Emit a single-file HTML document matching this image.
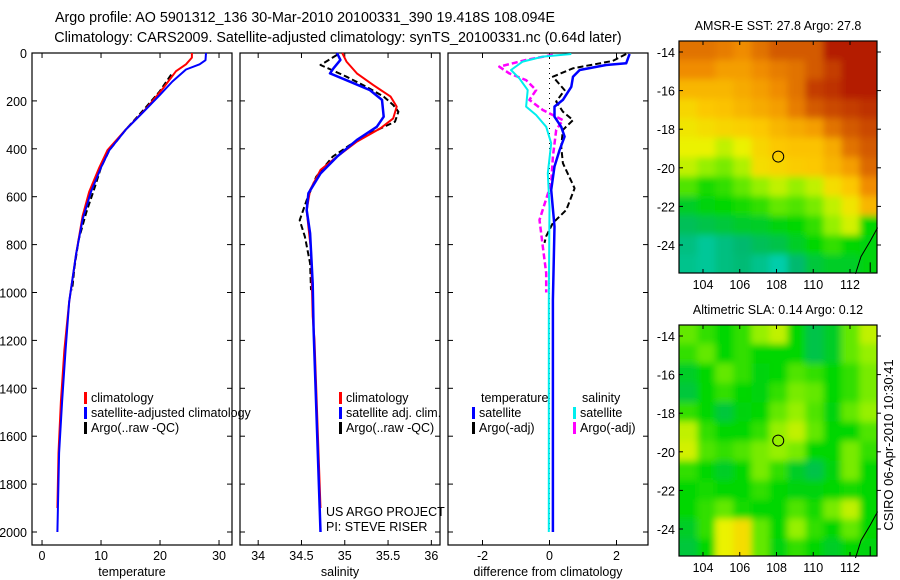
<!DOCTYPE html>
<html><head><meta charset="utf-8">
<style>
body{margin:0;background:#fff;}
svg{display:block;font-family:"Liberation Sans",sans-serif;}
text{fill:#000;}
</style></head>
<body>
<svg id="chart" width="900" height="580" viewBox="0 0 900 580" xmlns="http://www.w3.org/2000/svg">
<defs>
<filter id="blur" x="-5%" y="-5%" width="110%" height="110%"><feGaussianBlur stdDeviation="3.5"/></filter>
<clipPath id="c1"><rect x="679" y="41" width="198" height="232"/></clipPath>
<clipPath id="c2"><rect x="679" y="325" width="198" height="231"/></clipPath>
</defs>
<text x="305" y="22" font-size="14.3" text-anchor="middle">Argo profile: AO 5901312_136 30-Mar-2010 20100331_390 19.418S 108.094E</text>
<text x="338" y="42" font-size="14.3" text-anchor="middle">Climatology: CARS2009. Satellite-adjusted climatology: synTS_20100331.nc (0.64d later)</text>
<g id="g1"></g>
<g id="g2"></g>
<g id="g3"></g>
<g id="m1"></g>
<g id="m2"></g>
<text transform="translate(893,445) rotate(-90)" font-size="13" text-anchor="middle">CSIRO 06-Apr-2010 10:30:41</text>
</svg>
<script>
// ---- temperature profiles ----
const tClimDepth=[0,19,47,76,148,234,320,406,478,579,679,837,1038,1239,1455,1670,1900];
const tClimVal=[25.4,25.4,24.4,22.7,20.5,17.6,14.2,11.1,9.7,8,6.9,5.8,4.6,3.8,3.2,2.8,2.6];
const tSatDepth=[0,30,47,69,119,177,248,320,406,478,579,693,837,1038,1239,1455,1670,2000];
const tSatVal=[27.8,27.7,26.7,24.4,22.1,19.9,17.1,14.2,11.4,10,8.3,6.9,5.8,4.6,4,3.4,2.9,2.6];
const tArgoDepth=[90,162,241,320,406,478,564,665,780,894,990];
const tArgoVal=[21.9,19.9,17.1,14.2,11.4,10,8.9,7.5,6.2,5.5,5.1];
// ---- salinity profiles ----
const sClimDepth=[0,36,85,134,182,224,273,315,370,433,488,572,656,725,823,1100,1200,1900];
const sClimVal=[34.97,35.02,35.14,35.33,35.53,35.6,35.56,35.41,35.14,34.91,34.72,34.6,34.56,34.58,34.61,34.63,34.65,34.72];
const sSatDepth=[0,29,64,85,120,155,196,266,308,363,433,503,586,656,753,962,1156,2000];
const sSatVal=[34.91,34.95,34.87,34.83,35.06,35.29,35.43,35.45,35.37,35.14,34.91,34.72,34.58,34.56,34.6,34.63,34.64,34.72];
const sArgoDepth=[8,50,71,99,141,182,217,245,287,329,384,433,517,614,698,767,878,990];
const sArgoVal=[34.91,34.72,34.85,35.02,35.25,35.45,35.56,35.62,35.58,35.33,35.06,34.86,34.67,34.56,34.48,34.54,34.6,34.61];
// ---- differences ----
const dTSatDepth=[4,43,50,71,99,141,196,224,266,308,349,405,474,572,725,1031,2000];
const dTSatVal=[2.39,2.29,1.69,0.9,0.7,0.65,0.4,0.15,0.15,0.35,0.45,0.3,0.15,0.05,0.15,0.1,0.1];
const dTArgoDepth=[4,33,64,99,155,203,245,280,321,391,460,565,655,710,765,793];
const dTArgoVal=[2.29,1.89,0.7,0.1,0.45,0.2,0.4,0.7,0.4,0.35,0.4,0.75,0.5,0.1,-0.1,-0.15];
const dSSatDepth=[4,15,36,71,106,155,224,259,308,377,502,642,1031,2000];
const dSSatVal=[0.65,-0.2,-0.8,-1.15,-0.9,-0.65,-0.7,-0.4,-0.1,0.05,-0.05,0,-0.02,-0.02];
const dSArgoDepth=[8,29,57,85,113,155,196,238,280,321,433,544,697,808,919,1000];
const dSArgoVal=[0.1,-0.7,-1.5,-1.2,-0.7,-0.4,-0.6,-0.2,0.4,0.2,0.1,0.05,-0.3,-0.2,-0.1,-0.1];
// ---- axis ticks ----
const depthTicks=[0,200,400,600,800,1000,1200,1400,1600,1800,2000];
const tempTicks=[0,10,20,30];
const salTicks=[34,34.5,35,35.5,36];
const diffTicks=[-2,0,2];
const lonTicks=[104,106,108,110,112];
const latTicks=[-14,-16,-18,-20,-22,-24];
// ---- map grids (colour index 0..1) ----
const sstGrid=[
[0.8,0.8,0.78,0.75,0.8,0.85,0.85,0.85,0.95,0.95,0.95],
[0.75,0.75,0.72,0.72,0.75,0.78,0.8,0.85,0.9,0.95,0.95],
[0.68,0.68,0.68,0.7,0.72,0.75,0.8,0.9,0.92,0.95,0.95],
[0.62,0.65,0.66,0.68,0.7,0.72,0.78,0.85,0.88,0.9,0.92],
[0.58,0.6,0.62,0.63,0.65,0.68,0.7,0.72,0.8,0.85,0.88],
[0.55,0.55,0.5,0.55,0.62,0.65,0.66,0.66,0.7,0.8,0.85],
[0.5,0.45,0.42,0.48,0.6,0.62,0.64,0.65,0.68,0.72,0.82],
[0.38,0.32,0.35,0.4,0.45,0.5,0.45,0.5,0.6,0.65,0.75],
[0.25,0.28,0.3,0.32,0.35,0.4,0.38,0.42,0.5,0.58,0.68],
[0.18,0.2,0.22,0.24,0.25,0.28,0.3,0.35,0.45,0.52,0.3],
[0.12,0.08,0.12,0.15,0.18,0.2,0.25,0.3,0.35,0.3,0.28],
[0.1,0.08,0.12,0.14,0.1,0.05,0.15,0.22,0.25,0.25,0.28]];
const slaGrid=[
[0.4,0.35,0.3,0.35,0.45,0.5,0.3,0.2,0.25,0.4,0.5],
[0.35,0.4,0.3,0.35,0.3,0.3,0.3,0.2,0.25,0.4,0.45],
[0.25,0.3,0.4,0.35,0.28,0.3,0.38,0.35,0.3,0.35,0.42],
[0.22,0.3,0.35,0.3,0.28,0.35,0.42,0.4,0.3,0.35,0.42],
[0.35,0.3,0.22,0.28,0.3,0.4,0.45,0.38,0.28,0.4,0.45],
[0.5,0.35,0.3,0.3,0.35,0.45,0.5,0.4,0.3,0.3,0.38],
[0.52,0.38,0.35,0.38,0.42,0.45,0.42,0.3,0.3,0.42,0.35],
[0.35,0.3,0.25,0.3,0.42,0.35,0.25,0.2,0.28,0.42,0.3],
[0.3,0.32,0.3,0.3,0.35,0.3,0.28,0.28,0.3,0.32,0.3],
[0.3,0.35,0.4,0.32,0.3,0.3,0.38,0.32,0.42,0.5,0.3],
[0.25,0.35,0.55,0.6,0.4,0.3,0.45,0.35,0.3,0.4,0.3],
[0.22,0.3,0.55,0.6,0.4,0.28,0.35,0.3,0.25,0.3,0.28]];
const argoLon=108.094, argoLat=-19.418;

const NS='http://www.w3.org/2000/svg';
function mk(parent,tag,attrs){const e=document.createElementNS(NS,tag);for(const k in attrs)e.setAttribute(k,attrs[k]);parent.appendChild(e);return e;}
const Y0=53, YB=545, PX=47.9/200;
const yD=d=>Y0+d*PX;

function panel(g,x0,x1,vmin,vmax,xt,label,showDepth){
  const sx=v=>x0+(v-vmin)/(vmax-vmin)*(x1-x0);
  const fr=mk(g,'rect',{x:x0,y:Y0,width:x1-x0,height:YB-Y0,fill:'none',stroke:'#000','stroke-width':1.2});
  
  
  depthTicks.forEach(d=>{
    const y=yD(d);
    mk(g,'line',{x1:x0,y1:y,x2:x0+5,y2:y,stroke:'#000'});
    mk(g,'line',{x1:x1-5,y1:y,x2:x1,y2:y,stroke:'#000'});
    if(showDepth){const t=mk(g,'text',{x:x0-5,y:y+5,'font-size':12.5,'text-anchor':'end'});t.textContent=d;
      
      }
  });
  xt.forEach(v=>{
    const x=sx(v);
    mk(g,'line',{x1:x,y1:YB,x2:x,y2:YB-5,stroke:'#000'});
    mk(g,'line',{x1:x,y1:Y0,x2:x,y2:Y0+5,stroke:'#000'});
    const t=mk(g,'text',{x:x,y:YB+15,'font-size':12.5,'text-anchor':'middle'});t.textContent=v;
    
    
  });
  const l=mk(g,'text',{x:(x0+x1)/2,y:YB+31,'font-size':12.5,'text-anchor':'middle'});l.textContent=label;
  
  
  return sx;
}
function line(g,sx,dep,val,color,w,dash,name){
  const p=dep.map((d,i)=>sx(val[i]).toFixed(1)+','+yD(d).toFixed(1)).join(' ');
  const e=mk(g,'polyline',{points:p,fill:'none',stroke:color,'stroke-width':w,'stroke-linejoin':'round'});
  if(dash)e.setAttribute('stroke-dasharray',dash);
  
  
}
function legend(g,x,y,items){
  items.forEach((it,i)=>{
    const yy=y+i*15;
    const m=mk(g,'rect',{x:x,y:yy-10,width:3,height:12,fill:it[1]});
    
    
    const t=mk(g,'text',{x:x+7,y:yy,'font-size':12.5});t.textContent=it[0];
    
    
  });
}
const g1=document.getElementById('g1'),g2=document.getElementById('g2'),g3=document.getElementById('g3');
const sx1=panel(g1,32,232,-1.7,32.2,tempTicks,'temperature',true);
line(g1,sx1,tArgoDepth,tArgoVal,'#000',2,'6,3','argo-temperature-line');
line(g1,sx1,tClimDepth,tClimVal,'#f00',2,null,'climatology-temperature-line');
line(g1,sx1,tSatDepth,tSatVal,'#00f',2,null,'satellite-temperature-line');
legend(g1,84,402,[['climatology','#f00'],['satellite-adjusted climatology','#00f'],['Argo(..raw -QC)','#000']]);

const sx2=panel(g2,240,440,33.79,36.1,salTicks,'salinity',false);
line(g2,sx2,sArgoDepth,sArgoVal,'#000',2,'6,3','argo-salinity-line');
line(g2,sx2,sClimDepth,sClimVal,'#f00',2,null,'climatology-salinity-line');
line(g2,sx2,sSatDepth,sSatVal,'#00f',2.5,null,'satellite-salinity-line');
legend(g2,339,402,[['climatology','#f00'],['satellite adj. clim.','#00f'],['Argo(..raw -QC)','#000']]);
[['US ARGO PROJECT',516],['PI: STEVE RISER',531]].forEach(a=>{const t=mk(g2,'text',{x:326,y:a[1],'font-size':12.5});t.textContent=a[0];
  
  });

const sx3=panel(g3,448,648,-3.03,2.94,diffTicks,'difference from climatology',false);
mk(g3,'line',{x1:sx3(0),y1:Y0,x2:sx3(0),y2:yD(2000),stroke:'#000','stroke-dasharray':'1,4'});
line(g3,sx3,dTArgoDepth,dTArgoVal,'#000',2,'6,3','argo-temperature-diff-line');
line(g3,sx3,dSArgoDepth,dSArgoVal,'#f0f',2.5,'6,3','argo-salinity-diff-line');
line(g3,sx3,dTSatDepth,dTSatVal,'#00f',2.5,null,'satellite-temperature-diff-line');
line(g3,sx3,dSSatDepth,dSSatVal,'#0ee',2,null,'satellite-salinity-diff-line');
const ht=mk(g3,'text',{x:481,y:402,'font-size':12.5});ht.textContent='temperature';


const hs=mk(g3,'text',{x:582,y:402,'font-size':12.5});hs.textContent='salinity';


legend(g3,472,417,[['satellite','#00f'],['Argo(-adj)','#000']]);
legend(g3,573,417,[['satellite','#0ee'],['Argo(-adj)','#f0f']]);

// colormap
const cstops=[[0,[0,215,200]],[0.15,[0,185,110]],[0.3,[0,215,0]],[0.45,[150,240,0]],[0.55,[235,242,0]],[0.65,[252,200,0]],[0.75,[240,140,0]],[0.87,[205,80,0]],[1,[165,0,0]]];
function cmap(v){for(let i=1;i<cstops.length;i++){if(v<=cstops[i][0]){const a=cstops[i-1],b=cstops[i];const f=(v-a[0])/(b[0]-a[0]);const c=a[1].map((q,j)=>Math.round(q+(b[1][j]-q)*f));return 'rgb('+c.join(',')+')';}}return 'rgb(165,0,0)';}

function map(g,top,bottom,lat14,lat24,grid,title,clip){
  const L=679,R=877,lonA=104,lonAx=703,lonB=112,lonBx=850;
  const sx=lo=>lonAx+(lo-lonA)/(lonB-lonA)*(lonBx-lonAx);
  const sy=la=>lat14+(la+14)/(-10)*(lat24-lat14);
  const lon0=102.7,lon1=113.5,la0=-13.4,la1=-25.5;
  const nr=grid.length,nc=grid[0].length;
  const cg=mk(g,'g',{'clip-path':'url(#'+clip+')'});
  const bg=mk(cg,'g',{filter:'url(#blur)'});
  grid.forEach((row,r)=>row.forEach((v,c)=>{
    let xa=sx(lon0+(lon1-lon0)*c/nc), xb=sx(lon0+(lon1-lon0)*(c+1)/nc);
    let ya=sy(la0+(la1-la0)*r/nr), yb=sy(la0+(la1-la0)*(r+1)/nr);
    if(c===0)xa-=10; if(c===nc-1)xb+=10; if(r===0)ya-=10; if(r===nr-1)yb+=10;
    const e=mk(bg,'rect',{x:xa.toFixed(1),y:ya.toFixed(1),width:(xb-xa+0.6).toFixed(1),height:(yb-ya+0.6).toFixed(1),fill:cmap(v)});
    
    
  }));
  const cl=mk(g,'polyline',{points:[[113.5,-23.1],[113.1,-23.8],[112.6,-24.6],[112.3,-25.5]].map(p=>sx(p[0]).toFixed(1)+','+sy(p[1]).toFixed(1)).join(' '),fill:'none',stroke:'#000','stroke-width':1});
  
  
  mk(g,'line',{x1:sx(113.1),y1:sy(-24.9),x2:sx(113.1),y2:sy(-25.4),stroke:'#000'});
  const ci=mk(g,'circle',{cx:sx(argoLon),cy:sy(argoLat),r:5.5,fill:'none',stroke:'#000','stroke-width':1});
  
  
  const fr=mk(g,'rect',{x:L,y:top,width:R-L,height:bottom-top,fill:'none',stroke:'#000','stroke-width':1.2});
  
  
  lonTicks.forEach(lo=>{const x=sx(lo);
    mk(g,'line',{x1:x,y1:bottom,x2:x,y2:bottom-4,stroke:'#000'});
    mk(g,'line',{x1:x,y1:top,x2:x,y2:top+4,stroke:'#000'});
    const t=mk(g,'text',{x:x,y:bottom+16,'font-size':12.5,'text-anchor':'middle'});t.textContent=lo;
    
    });
  latTicks.forEach(la=>{const y=sy(la);
    mk(g,'line',{x1:L,y1:y,x2:L+4,y2:y,stroke:'#000'});
    mk(g,'line',{x1:R,y1:y,x2:R+4,y2:y,stroke:'#000'});
    const t=mk(g,'text',{x:L-4,y:y+5,'font-size':12.5,'text-anchor':'end'});t.textContent=la;
    
    });
  const tt=mk(g,'text',{x:(L+R)/2,y:top-11,'font-size':12.5,'text-anchor':'middle'});tt.textContent=title;
  
  
}
map(document.getElementById('m1'),41,273,52,245,sstGrid,'AMSR-E SST: 27.8 Argo: 27.8','c1');
map(document.getElementById('m2'),325,556,336,529,slaGrid,'Altimetric SLA: 0.14 Argo: 0.12','c2');
</script>
</body></html>
